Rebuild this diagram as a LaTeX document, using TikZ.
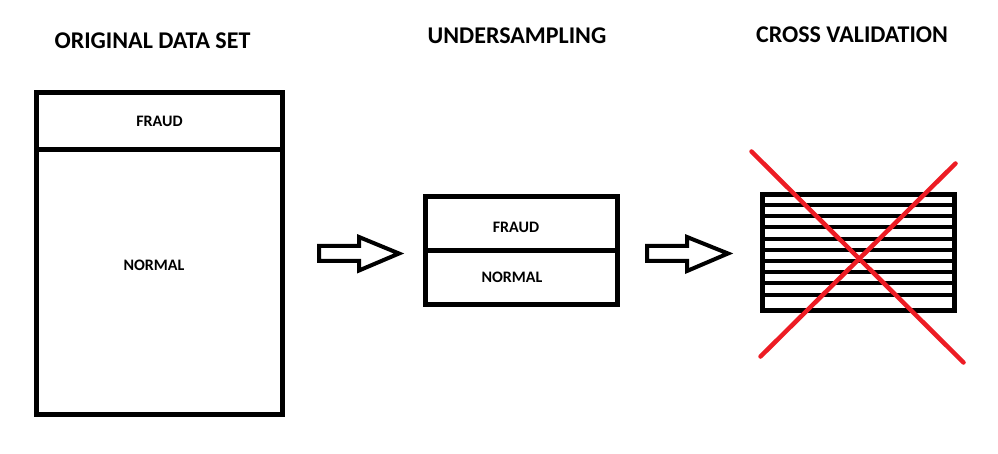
\documentclass[tikz,border=0pt]{standalone}
\usepackage{fontspec}
\setmainfont{Carlito}
\definecolor{paintred}{RGB}{237,28,36}
\begin{document}
\begin{tikzpicture}[x=1pt,y=-1pt,
  boxframe/.style={draw=black,line width=5pt,rectangle,inner sep=0pt,outer sep=0pt},
  divider/.style={draw=black,line width=5pt},
  title/.style={font=\bfseries\fontsize{24}{27}\selectfont,anchor=base,inner sep=0pt},
  label/.style={font=\bfseries\fontsize{16}{19}\selectfont,anchor=base,inner sep=0pt},
  blockarrow/.style={draw=black,line width=4pt,line join=miter,fill=white},
  stripe/.style={draw=black,line width=4pt},
  cross/.style={draw=paintred,line width=4.5pt,line cap=round}]
\useasboundingbox (0,0) rectangle (998,454);
\fill[white] (0,0) rectangle (998,454);

% titles
\node[title] (t1) at (152.5,49) {ORIGINAL DATA SET};
\node[title] (t2) at (517,44) {UNDERSAMPLING};
\node[title] (t3) at (852,43) {CROSS VALIDATION};

% original data set
\node[boxframe,minimum width=246,minimum height=322] (orig) at (159.5,253.5) {};
\coordinate (odl) at (36.5,149.5);
\coordinate (odr) at (282.5,149.5);
\draw[divider] (odl) -- (odr);
\node[label] (of) at (159.5,127) {FRAUD};
\node[label] (on) at (154,271) {NORMAL};

% undersampling
\node[boxframe,minimum width=192,minimum height=108] (under) at (521.5,250.5) {};
\coordinate (udl) at (425.5,250.5);
\coordinate (udr) at (617.5,250.5);
\draw[divider] (udl) -- (udr);
\node[label] (uf) at (516,233) {FRAUD};
\node[label] (un) at (512,283) {NORMAL};

% arrows
\draw[blockarrow] (319,246) -- (359,246) -- (359,237) -- (399,253.5) -- (359,270.5) -- (359,261) -- (319,261) -- cycle;
\draw[blockarrow] (647,246) -- (687,246) -- (687,237) -- (728,253.5) -- (687,271) -- (687,261) -- (647,261) -- cycle;

% cross validation striped box
\node[boxframe,minimum width=192,minimum height=116] (cv) at (858.5,252.8) {};
\foreach \yy in {205.5,216.3,227.2,238.7,250.3,261.2,272.2,283,294.5}{
  \draw[stripe] (764,\yy) -- (953,\yy);
}

% red cross
\coordinate (c1a) at (751.5,151.5);
\coordinate (c1b) at (963.5,362.5);
\coordinate (c2a) at (955.5,163.5);
\coordinate (c2b) at (760.5,356.5);
\draw[cross] (c1a) -- (c1b);
\draw[cross] (c2a) -- (c2b);
\end{tikzpicture}
\end{document}
